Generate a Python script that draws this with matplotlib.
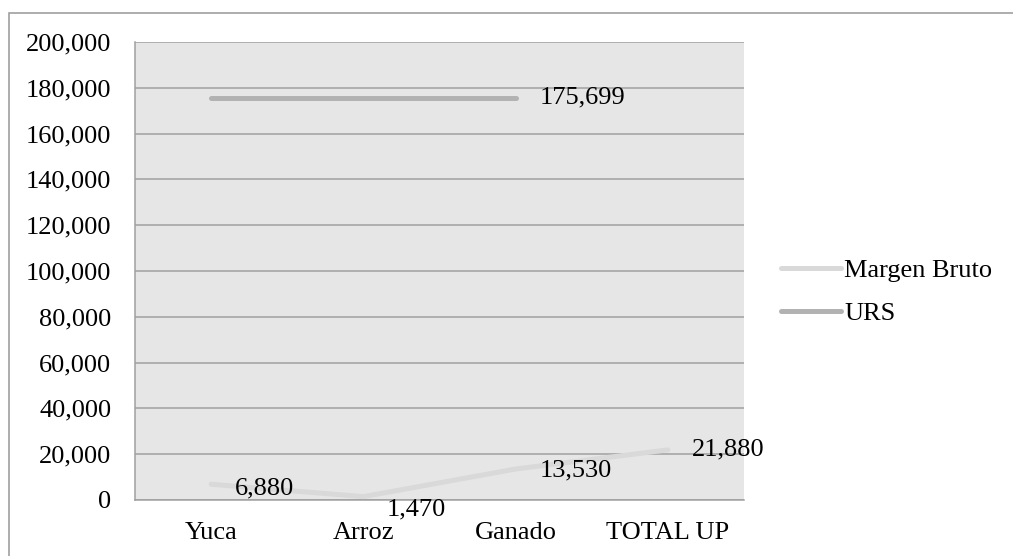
import matplotlib
matplotlib.use("Agg")
import matplotlib.pyplot as plt
from matplotlib.patches import Rectangle
from matplotlib.ticker import FuncFormatter

categories = ["Yuca", "Arroz", "Ganado", "TOTAL UP"]
margen_bruto = [6880, 1470, 13530, 21880]
urs = [175699, 175699, 175699]
urs_label = "175,699"
y_ticks = list(range(0, 200001, 20000))

plt.rcParams['font.family'] = ['Liberation Serif', 'DejaVu Serif']

W, H = 1013, 556
fig = plt.figure(figsize=(W / 100, H / 100), dpi=100)
fig.patches.append(Rectangle((8.5 / W, -0.2), 1.2, 1.2 - 12.5 / H, transform=fig.transFigure,
                             fill=False, edgecolor="#a0a0a0", linewidth=1.2))

ax = fig.add_axes([135 / W, 1 - 500 / H, (744 - 135) / W, (500 - 42) / H])
ax.set_facecolor("#e6e6e6")

x_mb = list(range(len(categories)))
x_urs = list(range(len(urs)))
ax.plot(x_mb, margen_bruto, color="#d9d9d9", lw=3.6, solid_capstyle="round",
        label="Margen Bruto", zorder=3)
ax.plot(x_urs, urs, color="#b2b2b2", lw=3.6, solid_capstyle="round",
        label="URS", zorder=3)

dy = [-3, -9, -1, 0]
for i, v in enumerate(margen_bruto):
    ax.annotate(f"{v:,}", (x_mb[i], v), xytext=(17, dy[i]), textcoords="offset points",
                ha="left", va="center", fontsize=19, color="black", zorder=5,
                annotation_clip=False)
ax.annotate(urs_label, (x_urs[-1], urs[-1]), xytext=(17, 0), textcoords="offset points",
            ha="left", va="center", fontsize=19, color="black", zorder=5)

ax.set_xlim(-0.5, len(categories) - 0.5)
ax.set_ylim(0, 200000)
ax.set_yticks(y_ticks)
ax.yaxis.set_major_formatter(FuncFormatter(lambda v, p: f"{int(v):,}"))
ax.set_xticks(x_mb)
ax.set_xticklabels(categories)
ax.tick_params(axis="both", length=0, labelsize=19)
ax.tick_params(axis="y", pad=17)
ax.tick_params(axis="x", pad=16)
ax.grid(axis="y", color="#a0a0a0", linewidth=1.1, zorder=1)
ax.set_axisbelow(True)
for s in ["top", "right"]:
    ax.spines[s].set_visible(False)
for s in ["left", "bottom"]:
    ax.spines[s].set_color("#a0a0a0")
    ax.spines[s].set_linewidth(1.1)

leg = fig.legend(loc="upper left", bbox_to_anchor=(757 / W, 1 - 235 / H), frameon=False,
                 fontsize=19, handlelength=2.3, handletextpad=0.1, labelspacing=0.75)

fig.savefig("out.png", dpi=100)
